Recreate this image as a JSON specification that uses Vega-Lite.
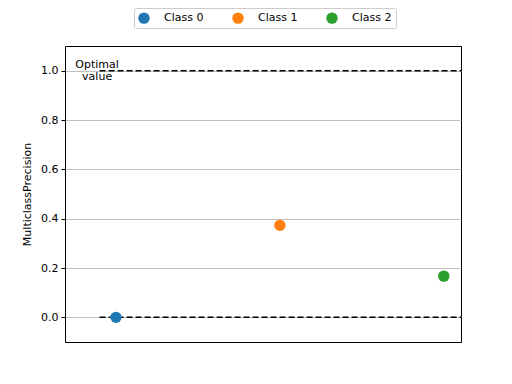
{
  "$schema": "https://vega.github.io/schema/vega-lite/v6.json",
  "width": 396,
  "height": 296,
  "autosize": {"type": "none"},
  "padding": {"left": 65, "top": 46, "right": 51, "bottom": 42},
  "config": {
    "font": "DejaVu Sans",
    "view": {"stroke": "black", "strokeWidth": 1},
    "axis": {"labelFont": "DejaVu Sans", "titleFont": "DejaVu Sans"}
  },
  "datasets": {
    "points": [
      {"cls": "Class 0", "idx": 0, "value": 0.0},
      {"cls": "Class 1", "idx": 1, "value": 0.373},
      {"cls": "Class 2", "idx": 2, "value": 0.167}
    ],
    "refs": [
      {"y": 1.0, "x": -0.1, "x2": 2.105},
      {"y": 0.0, "x": -0.1, "x2": 2.105}
    ],
    "label": [
      {"x": -0.115, "y": 1.0, "text": "Optimal\n  value"}
    ]
  },
  "layer": [
    {
      "data": {"name": "refs"},
      "mark": {"type": "rule", "color": "black", "strokeWidth": 1.5, "strokeDash": [6, 3]},
      "encoding": {
        "x": {"field": "x", "type": "quantitative", "scale": {"domain": [-0.311, 2.105], "nice": false, "zero": false}, "axis": null},
        "x2": {"field": "x2"},
        "y": {"field": "y", "type": "quantitative", "scale": {"domain": [-0.1, 1.1], "nice": false, "zero": false},
          "axis": {
            "title": "MulticlassPrecision", "titleFontSize": 11, "titleFontWeight": "normal", "titleColor": "black", "titlePadding": 8,
            "values": [0, 0.2, 0.4, 0.6, 0.8, 1.0], "format": ".1f",
            "labelFontSize": 11, "labelColor": "black", "labelPadding": 3,
            "tickColor": "black", "tickSize": 4, "domain": false,
            "grid": true, "gridColor": "#b0b0b0", "gridWidth": 0.8
          }
        }
      }
    },
    {
      "data": {"name": "label"},
      "mark": {"type": "text", "align": "center", "baseline": "middle", "fontSize": 11, "lineBreak": "\n", "lineHeight": 12, "dy": -6, "color": "black"},
      "encoding": {
        "x": {"field": "x", "type": "quantitative"},
        "y": {"field": "y", "type": "quantitative"},
        "text": {"field": "text"}
      }
    },
    {
      "data": {"name": "points"},
      "mark": {"type": "circle", "size": 130, "opacity": 1},
      "encoding": {
        "x": {"field": "idx", "type": "quantitative"},
        "y": {"field": "value", "type": "quantitative"},
        "color": {
          "field": "cls", "type": "nominal",
          "scale": {"domain": ["Class 0", "Class 1", "Class 2"], "range": ["#1f77b4", "#ff7f0e", "#2ca02c"]},
          "legend": {
            "title": null, "orient": "none", "direction": "horizontal",
            "legendX": 69, "legendY": -38,
            "symbolType": "circle", "symbolSize": 130, "symbolStrokeWidth": 0,
            "labelFontSize": 11, "labelColor": "black", "labelOffset": 14,
            "columnPadding": 28, "padding": 4,
            "strokeColor": "#cccccc", "fillColor": "white", "cornerRadius": 2
          }
        }
      }
    }
  ]
}
